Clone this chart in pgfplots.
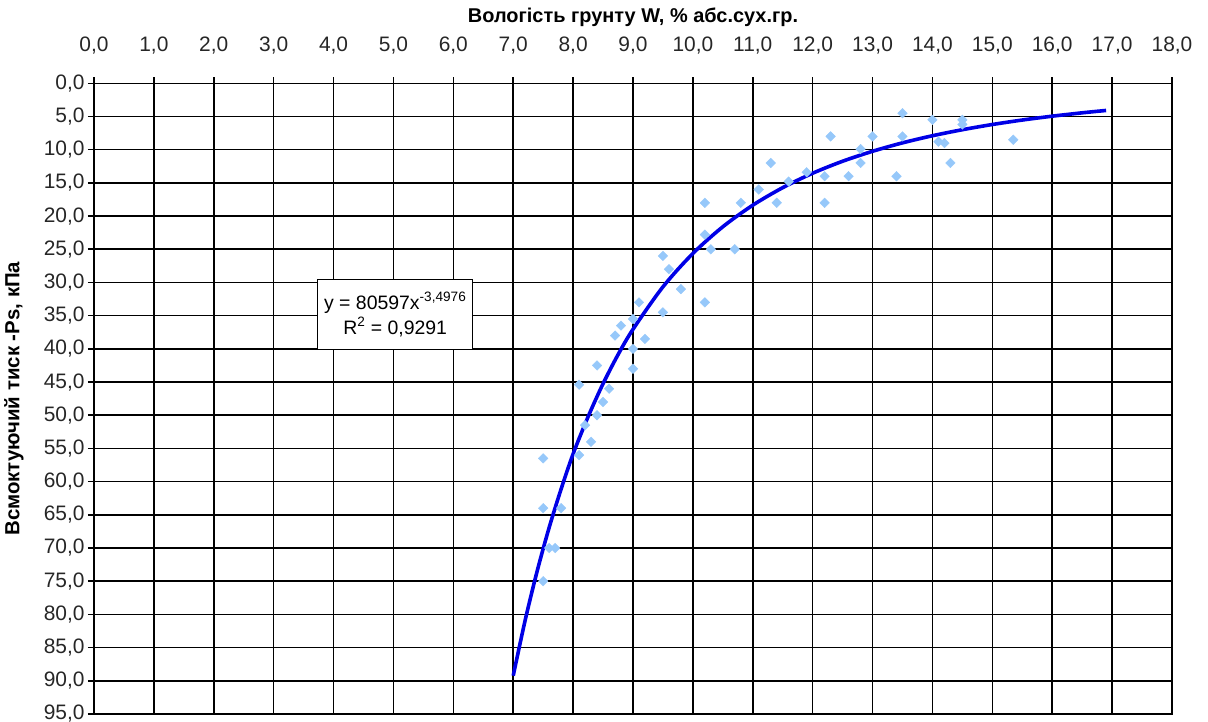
\documentclass[border=0pt]{standalone}
\usepackage{fontspec}
\setmainfont{Liberation Sans}
\usepackage{pgfplots}
\pgfplotsset{compat=1.18}
\definecolor{pts}{RGB}{150,200,250}
\definecolor{fitblue}{RGB}{0,0,230}
\begin{document}
\begin{tikzpicture}
\useasboundingbox (-94bp,-8bp) rectangle (1114bp,714bp);
\begin{axis}[
  scale only axis,
  width=1078bp, height=630.7bp,
  xmin=0, xmax=18, ymin=0, ymax=95,
  y dir=reverse,
  xtick={0,1,...,18},
  ytick={0,5,...,95},
  xticklabel pos=upper,
  axis line style={black, line width=1.6bp},
  grid=major,
  grid style={black, line width=1.6bp},
  tick align=outside,
  major tick length=6bp,
  tick style={black, line width=1.6bp},
  xtick pos=upper, ytick pos=left,
  /pgf/number format/.cd, fixed, fixed zerofill, precision=1, use comma, assume math mode=true,
  /pgfplots/.cd,
  ticklabel style={font=\fontsize{21}{23}\selectfont, text=black!85},
  xticklabel style={yshift=20bp},
  title={\bfseries Вологість грунту W, \% абс.сух.гр.},
  title style={at={(axis description cs:0.5,1.0952)}, anchor=center, font=\fontsize{20}{22}\selectfont},
  ylabel={\bfseries Всмоктуючий тиск -Ps, кПа},
  ylabel style={at={(axis description cs:-0.0742,0.5)}, anchor=center, font=\fontsize{20.5}{22}\selectfont},
  clip=false,
]
\addplot[only marks, mark=square*, mark size=3.4bp, mark options={rotate=45, fill=pts, draw=pts}] coordinates {
(12.3,8.0) (13.0,8.0) (12.8,9.9) (12.8,12.0) (13.5,4.5) (11.3,12.0)
(12.2,14.0) (12.6,14.0) (13.4,14.0) (11.9,13.4) (11.6,14.8) (11.1,16.0)
(11.4,18.0) (12.2,18.0) (10.8,18.0) (10.2,18.0) (10.2,22.8) (10.3,25.0)
(10.7,25.0) (9.5,26.0) (9.6,28.0) (9.8,31.0) (10.2,33.0) (9.5,34.5)
(9.1,33.0) (8.8,36.5) (8.7,38.0) (9.2,38.5) (9.0,40.0) (9.0,43.0)
(8.4,42.5) (8.1,45.4) (8.6,46.0) (8.5,48.0) (8.4,50.0) (8.3,54.0)
(8.1,56.0) (7.5,56.5) (7.5,64.0) (7.8,64.0) (7.6,70.0) (7.7,70.0)
(7.5,75.0) (14.0,5.5) (14.5,5.5) (14.5,6.2) (13.5,8.0) (14.1,8.8)
(14.2,9.0) (14.3,12.0) (15.35,8.5) (9.0,35.5) (8.2,51.5)
};
\addplot[fitblue, line width=3.6bp, smooth] coordinates {
(7.0,89.23) (7.2,80.86) (7.4,73.47) (7.6,66.92) (7.8,61.11) (8.0,55.83)
(8.25,50.23) (8.5,45.25) (8.75,40.88) (9.0,37.05) (9.5,30.66) (10.0,25.63)
(10.5,21.61) (11.0,18.36) (11.5,15.72) (12.0,13.545) (12.5,11.74) (13.0,10.24)
(13.5,8.97) (14.0,7.90) (14.5,6.99) (15.0,6.206) (15.5,5.534) (16.0,4.952)
(16.5,4.447) (16.9,4.089)
};
\node[draw=black, line width=1.2bp, fill=white, align=center, minimum width=155bp, minimum height=70bp, inner sep=2bp, font=\fontsize{19.5}{25}\selectfont]
  at (axis cs:5.03,34.85) {y = 80597x\textsuperscript{-3,4976}\\R\textsuperscript{2} = 0,9291};
\end{axis}
\end{tikzpicture}
\end{document}
